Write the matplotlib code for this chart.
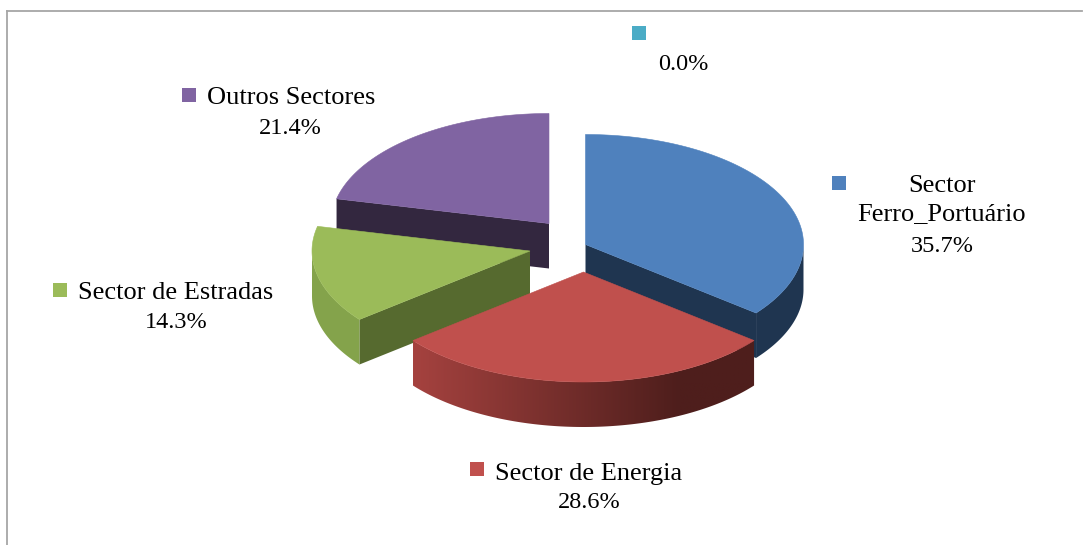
import numpy as np
import matplotlib
matplotlib.use("Agg")
import matplotlib.pyplot as plt
from matplotlib.colors import LinearSegmentedColormap
from matplotlib.patches import Polygon, Rectangle

# chart data
sectors = ["Sector\nFerro_Portuário", "Sector de Energia", "Sector de Estradas", "Outros Sectores", ""]
shares = [35.7, 28.6, 14.3, 21.4, 0.0]
pct_labels = ["35.7%", "28.6%", "14.3%", "21.4%", "0.0%"]

colors = ["#4f81bd", "#c0504d", "#9bbb59", "#8064a2", "#4bacc6"]
side_colors = ["#1f3550", "#4e1e1c", "#566a2f", "#33273f"]

# pie geometry in pixels
RX, RY, DEPTH = 218, 110, 45
apex = [(585.5, 244.5), (583.5, 272), (530, 251), (549, 223.5)]

fig = plt.figure(figsize=(10.83, 5.45), dpi=100)
ax = fig.add_axes([0, 0, 1, 1])
ax.axis("off")
plt.rcParams["font.family"] = ["Liberation Serif", "DejaVu Serif"]


def rim(cx, cy, a):
    # a is in degrees, clockwise from 12 o'clock
    r = np.radians(a)
    return cx + RX * np.sin(r), cy - RY * np.cos(r)


def wall_poly(x, y):
    # strip hanging DEPTH pixels below the curve x, y
    return np.r_[x, x[::-1]], np.r_[y, y[::-1] + DEPTH]


edges = np.concatenate([[0], np.cumsum(shares)]) / sum(shares) * 360

# frame
ax.plot([7, 7], [545, 11], color="#a6a6a6", lw=1.3)
ax.plot([7, 1082], [11, 11], color="#a6a6a6", lw=1.3)

red_grad = LinearSegmentedColormap.from_list(
    "red_wall", [(0, "#a5423f"), (0.78, "#4e1e1c"), (1, "#4e1e1c")])

# back to front: purple, green, blue, red
for z, i in enumerate([3, 2, 0, 1]):
    cx, cy = apex[i]
    a0, a1 = edges[i], edges[i + 1]
    angs = np.linspace(a0, a1, 160)
    xs, ys = rim(cx, cy, angs)
    base = 2 * z + 2

    if i == 3:
        # cut face on the left
        px, py = wall_poly(np.array([xs[0], cx]), np.array([ys[0], cy]))
        ax.fill(px, py, color=side_colors[3], lw=0, zorder=base)
    if i == 2:
        px, py = wall_poly(np.array([xs[0], cx]), np.array([ys[0], cy]))
        ax.fill(px, py, color=side_colors[2], lw=0, zorder=base)
        # only up to the leftmost point, the rest of the rim is at the back
        px, py = wall_poly(*rim(cx, cy, angs[angs <= 270]))
        ax.fill(px, py, color="#84a34b", lw=0, zorder=base)
    if i == 0:
        px, py = wall_poly(np.array([cx, xs[-1]]), np.array([cy, ys[-1]]))
        ax.fill(px, py, color=side_colors[0], lw=0, zorder=base)
        px, py = wall_poly(*rim(cx, cy, angs[angs >= 90]))
        ax.fill(px, py, color=side_colors[0], lw=0, zorder=base)
    if i == 1:
        px, py = wall_poly(xs, ys)
        im = ax.imshow(np.linspace(0, 1, 256).reshape(1, -1), cmap=red_grad, aspect="auto",
                       extent=[px.min(), px.max(), py.max(), py.min()], zorder=base)
        im.set_clip_path(Polygon(np.c_[px, py], transform=ax.transData))

    ax.fill(np.r_[cx, xs], np.r_[cy, ys], color=colors[i], lw=0.4, zorder=base + 1)

ax.set_xlim(0, 1083)
ax.set_ylim(545, 0)

# labels, legend keys
key_pos = [(839, 183), (477, 469), (60, 290), (189, 95), (639, 33)]
name_pos = [(942, 200), (589, 474), (176, 293), (291, 97.5), None]
pct_pos = [(942, 247), (589, 503), (176, 323), (290, 129), (683, 65)]

for i in range(len(shares)):
    kx, ky = key_pos[i]
    ax.add_patch(Rectangle((kx - 7, ky - 7), 14, 14, color=colors[i], lw=0, zorder=20))
    if name_pos[i] is not None:
        ax.text(name_pos[i][0], name_pos[i][1], sectors[i], ha="center", va="center",
                fontsize=19, color="black", linespacing=1.32, zorder=20)
    ax.text(pct_pos[i][0], pct_pos[i][1], pct_labels[i], ha="center", va="center",
            fontsize=17.5, color="black", zorder=20)

fig.savefig("out.png", dpi=100)
